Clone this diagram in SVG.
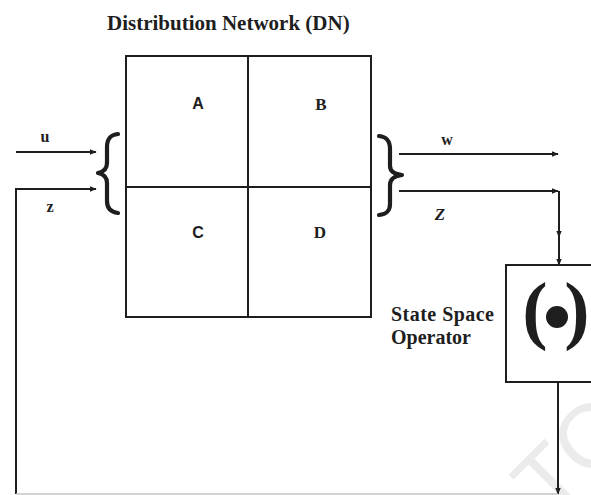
<svg xmlns="http://www.w3.org/2000/svg" width="591" height="495" viewBox="0 0 591 495">
<style>
.ln{fill:none;stroke:#1e1e1e;stroke-width:2}
.br{fill:none;stroke:#1e1e1e;stroke-width:4.2;stroke-linecap:round;stroke-linejoin:round}
.t{font-family:"Liberation Serif","Times New Roman",serif;fill:#1e1e1e;font-weight:bold}
.s{font-family:"Liberation Sans",Arial,sans-serif;fill:#1e1e1e;font-weight:bold}
</style>
<defs>
<marker id="ah" viewBox="0 0 10 10" refX="9" refY="5" markerWidth="7" markerHeight="7" markerUnits="userSpaceOnUse" orient="auto">
<path d="M0,1 L10,5 L0,9 Z" fill="#1e1e1e"/>
</marker>
</defs>
<rect width="591" height="495" fill="#ffffff"/>
<text x="0" y="0" transform="translate(551,520) rotate(-45)" font-family="Liberation Sans,Arial,sans-serif" font-size="90" fill="#ebebeb">TO</text>

<text class="t" x="107" y="30" font-size="21">Distribution Network (DN)</text>

<g id="dn">
<rect class="ln" x="126" y="56" width="245" height="261"/>
<line class="ln" x1="248" y1="56" x2="248" y2="317"/>
<line class="ln" x1="126" y1="187" x2="371" y2="187"/>
<text class="s" x="198" y="109" font-size="16" text-anchor="middle">A</text>
<text class="t" x="321" y="110" font-size="17" text-anchor="middle">B</text>
<text class="s" x="198" y="238" font-size="16" text-anchor="middle">C</text>
<text class="t" x="320" y="238" font-size="17" text-anchor="middle">D</text>
</g>

<g id="brace-in">
<path class="br" d="M118,134 C110,135 107,139 107,147 L107,163 C107,169 103,172 98,173 C103,174 107,177 107,183 L107,201 C107,208 110,212 118,213"/>
</g>
<g id="brace-out">
<path class="br" d="M379,136 C387,137 390,141 390,149 L390,166 C390,171 394,174 402,175 C394,176 390,179 390,185 L390,204 C390,211 387,214 379,215"/>
</g>

<g id="sso">
<rect class="ln" x="506" y="265" width="100" height="117"/>
<text class="t" x="535" y="335" font-size="76" text-anchor="middle">(</text>
<text class="t" x="577" y="335" font-size="76" text-anchor="middle">)</text>
<circle cx="557" cy="317" r="11" fill="#1e1e1e"/>
<text class="t" x="391" y="321" font-size="20" textLength="103" lengthAdjust="spacing">State Space</text>
<text class="t" x="391" y="344" font-size="20">Operator</text>
</g>

<g id="connectors">
<line class="ln" x1="16" y1="152" x2="96" y2="152" marker-end="url(#ah)"/>
<path class="ln" d="M16,494 L16,189 L96,189" marker-end="url(#ah)"/>
<line class="ln" x1="399" y1="154" x2="558" y2="154" marker-end="url(#ah)"/>
<line class="ln" x1="399" y1="191" x2="558" y2="191" marker-end="url(#ah)"/>
<path class="ln" d="M559,191 L559,237 L559,265" marker-mid="url(#ah)" marker-end="url(#ah)"/>
<line class="ln" x1="558" y1="382" x2="558" y2="494" marker-end="url(#ah)"/>
<line x1="16" y1="494" x2="558" y2="494" stroke="#c4c4c4" stroke-width="1.5"/>
<text class="t" x="45" y="142" font-size="16" text-anchor="middle">u</text>
<text class="t" x="50" y="212" font-size="16" text-anchor="middle">z</text>
<text class="t" x="447" y="145" font-size="16" text-anchor="middle">w</text>
<text class="t" x="440" y="220" font-size="17" text-anchor="middle" font-style="italic">Z</text>
</g>
</svg>
